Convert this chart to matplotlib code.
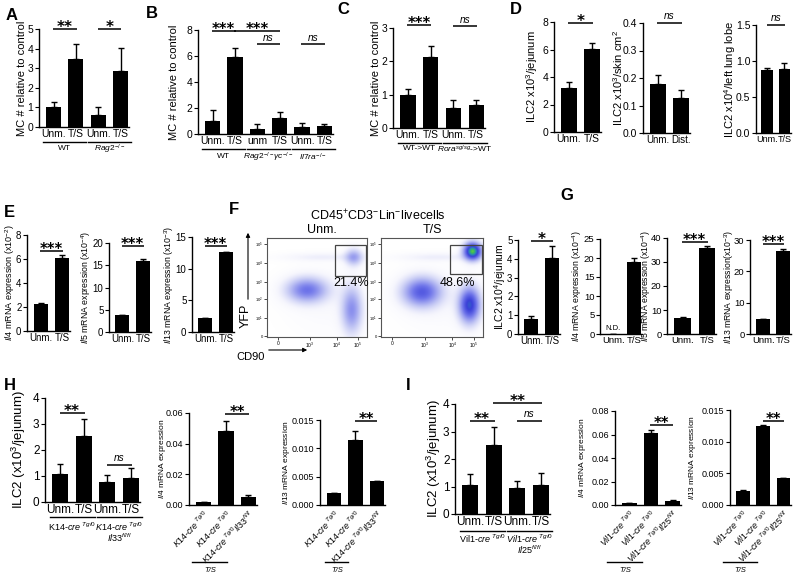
import matplotlib
matplotlib.use('Agg')
import matplotlib.pyplot as plt
import numpy as np
from matplotlib.lines import Line2D
from matplotlib.patches import Rectangle, FancyArrowPatch
from matplotlib.colors import LinearSegmentedColormap
from matplotlib.transforms import blended_transform_factory

plt.rcParams['font.family'] = ['Liberation Sans', 'DejaVu Sans']
plt.rcParams['mathtext.fontset'] = 'custom'
plt.rcParams['mathtext.rm'] = 'Liberation Sans'
plt.rcParams['mathtext.it'] = 'Liberation Sans:italic'
plt.rcParams['mathtext.bf'] = 'Liberation Sans:bold'
plt.rcParams['axes.linewidth'] = 1.0

W, H = 800, 574
fig = plt.figure(figsize=(8, 5.74), dpi=100)

# ---------------- data ----------------
UT = ['Unm.', 'T/S']
A_labels = ['Unm.', 'T/S', 'Unm.', 'T/S']
A_vals = [1.0, 3.45, 0.62, 2.85]
A_tops = [1.3, 4.25, 1.0, 4.02]

B_labels = ['Unm.', 'T/S', 'unm', 'T/S', 'Unm.', 'T/S']
B_vals = [1.0, 5.9, 0.38, 1.2, 0.54, 0.62]
B_tops = [1.85, 6.64, 0.74, 1.72, 0.87, 0.8]

C_labels = ['Unm.', 'T/S', 'Unm.', 'T/S']
C_vals = [1.0, 2.12, 0.61, 0.68]
C_tops = [1.16, 2.46, 0.84, 0.84]

D1_vals = [3.2, 6.06]
D1_tops = [3.64, 6.47]
D2_labels = ['Unm.', 'Dist.']
D2_vals = [0.178, 0.127]
D2_tops = [0.21, 0.157]
D3_vals = [0.88, 0.89]
D3_tops = [0.90, 0.97]

E1_vals = [2.23, 6.1]
E1_tops = [2.32, 6.35]
E2_vals = [3.8, 15.9]
E2_tops = [3.9, 16.5]
E3_vals = [2.2, 12.6]
E3_tops = [2.25, 12.7]

F_vals = [0.78, 4.06]
F_tops = [0.96, 4.7]
F_pct = ['21.4%', '48.6%']

G1_vals = [0.0, 18.9]
G1_tops = [0.0, 20.0]
G2_vals = [6.8, 36.0]
G2_tops = [7.0, 36.6]
G3_vals = [4.7, 26.4]
G3_tops = [4.8, 27.0]

H1_vals = [1.07, 2.52, 0.78, 0.93]
H1_tops = [1.46, 3.18, 1.03, 1.29]
H2_vals = [0.0018, 0.048, 0.0055]
H2_tops = [0.0018, 0.055, 0.0063]
H3_vals = [0.0022, 0.0115, 0.0042]
H3_tops = [0.0022, 0.013, 0.0043]
H_rot = [r'$\mathit{K14}$-$\mathit{cre}^{\ Tg/0}$', r'$\mathit{K14}$-$\mathit{cre}^{\ Tg/0}$',
         r'$\mathit{K14}$-$\mathit{cre}^{\ Tg/0}\mathit{Il33}^{fl/fl}$']

I1_vals = [1.07, 2.52, 0.96, 1.07]
I1_tops = [1.46, 3.18, 1.2, 1.5]
I2_vals = [0.0015, 0.061, 0.0038]
I2_tops = [0.0015, 0.0635, 0.0042]
I3_vals = [0.0022, 0.0125, 0.0042]
I3_tops = [0.0023, 0.0126, 0.0043]
I_rot = [r'$\mathit{Vil1}$-$\mathit{cre}^{\ Tg/0}$', r'$\mathit{Vil1}$-$\mathit{cre}^{\ Tg/0}$',
         r'$\mathit{Vil1}$-$\mathit{cre}^{\ Tg/0}\mathit{Il25}^{fl/fl}$']

# flow clusters: (x, y, sx, sy, weight) in plot fractions
flow_unm = [(0.40, 0.47, 0.14, 0.085, 0.75), (0.85, 0.27, 0.07, 0.16, 0.6),
            (0.87, 0.80, 0.06, 0.06, 0.5), (0.55, 0.80, 0.28, 0.03, 0.12),
            (0.60, 0.35, 0.30, 0.25, 0.05)]
flow_ts = [(0.40, 0.45, 0.13, 0.10, 0.9), (0.87, 0.32, 0.07, 0.12, 1.15),
           (0.90, 0.86, 0.06, 0.06, 1.55), (0.55, 0.80, 0.28, 0.03, 0.12),
           (0.60, 0.35, 0.30, 0.25, 0.05)]


def px_rect(l, t, r, b):
    return [l / W, 1 - b / H, (r - l) / W, (b - t) / H]


def ftext(x, y, s, **kw):
    fig.text(x / W, 1 - y / H, s, **kw)


def fline(x0, x1, y, lw=1.0):
    fig.add_artist(Line2D([x0 / W, x1 / W], [1 - y / H, 1 - y / H], transform=fig.transFigure,
                          color='black', lw=lw))


def bar_panel(px, vals, tops, ymax, yticks, ytl, xlabels, ylabel, ylabel_x, fs=7, ylfs=7, rot=None, xfs=None):
    l, t, r, b = px
    ax = fig.add_axes(px_rect(l, t, r, b))
    n = len(vals)
    x = np.arange(n)
    ax.bar(x, vals, width=0.68, color='black', zorder=2)
    up = [max(tp - v, 0) for tp, v in zip(tops, vals)]
    ax.errorbar(x, vals, yerr=[np.zeros(n), up], fmt='none', ecolor='black',
                elinewidth=1, capsize=2.5, capthick=1, zorder=1)
    ax.set_xlim(-0.65, n - 0.62)
    ax.set_ylim(0, ymax)
    ax.set_yticks(yticks)
    ax.set_yticklabels(ytl, fontsize=fs)
    ax.set_xticks(x)
    if rot is None:
        ax.set_xticklabels(xlabels, fontsize=xfs or fs)
        ax.tick_params(axis='x', length=0, pad=1.5)
    else:
        ax.set_xticklabels(xlabels, fontsize=6.3, rotation=45, ha='right', rotation_mode='anchor')
        ax.tick_params(axis='x', length=0, pad=2)
    ax.tick_params(axis='y', length=3, width=0.8, pad=1, direction='out')
    for s in ['top', 'right']:
        ax.spines[s].set_visible(False)
    ax.patch.set_alpha(0)
    ftext(ylabel_x, (t + b) / 2, ylabel, rotation=90, ha='center', va='center', fontsize=ylfs)
    ax._px = (l, t, r, b)
    return ax


def sig(ax, i, j, y, text, fs=10.5):
    ax.plot([i - 0.03, j + 0.03], [y, y], color='black', lw=1.1, clip_on=False, solid_capstyle='butt')
    if text == 'ns':
        ax.annotate('ns', ((i + j) / 2, y), xytext=(0, 1.2), textcoords='offset points',
                    ha='center', va='bottom', fontsize=7.2, style='italic', annotation_clip=False)
    else:
        ax.annotate(text, ((i + j) / 2, y), xytext=(0, -2.2), textcoords='offset points',
                    ha='center', va='baseline', fontsize=fs, fontweight='bold',
                    family='DejaVu Sans', annotation_clip=False)


def group(ax, i, j, text, line_off, text_off, text2=None, text2_off=None, fs=6):
    l, t, r, b = ax._px
    hp = b - t
    tr = blended_transform_factory(ax.transData, ax.transAxes)
    ax.plot([i - 0.45, j + 0.45], [-line_off / hp] * 2, color='black', lw=1.0, transform=tr, clip_on=False)
    ax.text((i + j) / 2, -text_off / hp, text, transform=tr, ha='center', va='center', fontsize=fs)
    if text2 is not None:
        ax.text((i + j) / 2, -text2_off / hp, text2, transform=tr, ha='center', va='center', fontsize=fs)


def letter(x, y, s):
    ftext(x, y, s, ha='center', va='center', fontsize=12, fontweight='bold')


# ---------------- A ----------------
letter(12, 15, 'A')
ax = bar_panel((39, 29, 129, 127), A_vals, A_tops, 5, range(6), [str(v) for v in range(6)],
               A_labels, 'MC # relative to control', 22, fs=7.5, ylfs=8)
sig(ax, 0, 1, 5.0, '**', 11)
sig(ax, 2, 3, 5.0, '*', 11)
group(ax, 0, 1, 'WT', 15, 22)
group(ax, 2, 3, r'$\mathit{Rag2}^{-/-}$', 15, 22)

# ---------------- B ----------------
letter(152, 13, 'B')
ax = bar_panel((198, 30, 333, 134), B_vals, B_tops, 8, [0, 2, 4, 6, 8], ['0', '2', '4', '6', '8'],
               B_labels, 'MC # relative to control', 174, fs=7.5, ylfs=8)
sig(ax, 0, 1, 7.9, '***')
sig(ax, 1, 3, 7.9, '***')
sig(ax, 2, 3, 6.9, 'ns')
sig(ax, 4, 5, 6.9, 'ns')
group(ax, 0, 1, 'WT', 15, 23)
group(ax, 2, 3, r'$\mathit{Rag2}^{-/-}\mathit{\gamma c}^{-/-}$', 15, 23)
group(ax, 4, 5, r'$\mathit{Il7ra}^{-/-}$', 15, 23)

# ---------------- C ----------------
letter(343, 10, 'C')
ax = bar_panel((393, 28, 485, 128), C_vals, C_tops, 3, [0, 1, 2, 3], ['0', '1', '2', '3'],
               C_labels, 'MC # relative to control', 376, fs=7.5, ylfs=8)
sig(ax, 0, 1, 3.1, '***')
sig(ax, 2, 3, 3.05, 'ns')
group(ax, 0, 1, 'WT->WT', 15, 21)
group(ax, 2, 3, r'$\mathit{Rora}^{sg/sg}$->WT', 15, 21)

# ---------------- D ----------------
letter(516, 9, 'D')
ax = bar_panel((554, 22, 601, 132), D1_vals, D1_tops, 8, [0, 2, 4, 6, 8], ['0', '2', '4', '6', '8'],
               UT, r'ILC2 x10$^{3}$/jejunum', 532, fs=7.5, ylfs=8)
sig(ax, 0, 1, 7.9, '*', 11)
ax = bar_panel((643, 23, 690, 133), D2_vals, D2_tops, 0.4, [0, 0.1, 0.2, 0.3, 0.4],
               ['0.0', '0.1', '0.2', '0.3', '0.4'], D2_labels, r'ILC2 x10$^{3}$/skin cm$^{2}$', 618,
               fs=7.5, ylfs=8, xfs=7)
sig(ax, 0, 1, 0.4, 'ns')
ax = bar_panel((756, 25, 791, 133), D3_vals, D3_tops, 1.5, [0, 0.5, 1.0, 1.5],
               ['0.0', '0.5', '1.0', '1.5'], UT, r'ILC2 x10$^{4}$/left lung lobe', 730, fs=7.5, ylfs=8,
               xfs=6.5)
sig(ax, 0, 1, 1.5, 'ns')

# ---------------- E ----------------
letter(9, 212, 'E')
ax = bar_panel((27, 235, 70, 331), E1_vals, E1_tops, 8, [0, 2, 4, 6, 8], ['0', '2', '4', '6', '8'],
               UT, r'$\mathit{Il4}$ mRNA expression (x10$^{-2}$)', 10, fs=7, ylfs=6.5)
sig(ax, 0, 1, 6.7, '***')
ax = bar_panel((109, 243, 151, 332), E2_vals, E2_tops, 20, [0, 5, 10, 15, 20],
               ['0', '5', '10', '15', '20'], UT, r'$\mathit{Il5}$ mRNA expression (x10$^{-4}$)', 86,
               fs=7, ylfs=6.3)
sig(ax, 0, 1, 19.3, '***')
ax = bar_panel((192, 237, 234, 332), E3_vals, E3_tops, 15, [0, 5, 10, 15], ['0', '5', '10', '15'],
               UT, r'$\mathit{Il13}$ mRNA expression (x10$^{-3}$)', 169, fs=7, ylfs=6.3)
sig(ax, 0, 1, 13.6, '***')

# ---------------- F (flow) ----------------
letter(234, 210, 'F')
cmap = LinearSegmentedColormap.from_list('flow', [
    (0.0, '#ffffff'), (0.05, '#f6f6fd'), (0.2, '#c4c8f4'), (0.45, '#7076ea'),
    (0.65, '#3a40d8'), (0.8, '#2a88b8'), (0.9, '#40c050'), (1.0, '#d8e030')])


def flow_panel(px, clusters, gate_px, pct, pct_xy):
    l, t, r, b = px
    ax = fig.add_axes(px_rect(l, t, r, b))
    g = np.linspace(0, 1, 220)
    X, Y = np.meshgrid(g, g)
    D = np.zeros_like(X)
    for (cx, cy, sx, sy, w) in clusters:
        D += w * np.exp(-((X - cx) ** 2 / (2 * sx ** 2) + (Y - cy) ** 2 / (2 * sy ** 2)))
    ax.imshow(D, origin='lower', extent=(0, 1, 0, 1), cmap=cmap, vmin=0, vmax=1.7,
              aspect='auto', interpolation='bilinear')
    ax.set_xlim(0, 1)
    ax.set_ylim(0, 1)
    for s in ax.spines.values():
        s.set_linewidth(0.8)
        s.set_color('#555555')
    ax.set_xticks([0.11, 0.43, 0.70, 0.91])
    ax.set_xticklabels(['0', r'10$^{3}$', r'10$^{4}$', r'10$^{5}$'], fontsize=3.5)
    ax.set_yticks([0.01, 0.19, 0.38, 0.56, 0.75, 0.94])
    ax.set_yticklabels(['0', r'10$^{1}$', r'10$^{2}$', r'10$^{3}$', r'10$^{4}$', r'10$^{5}$'], fontsize=3)
    ax.tick_params(length=2, width=0.5, pad=1)
    gl, gt, gr, gb = gate_px
    ax.add_patch(Rectangle(((gl - l) / (r - l), (b - gb) / (b - t)), (gr - gl) / (r - l),
                           (gb - gt) / (b - t), fill=False, ec='#444444', lw=0.9))
    ftext(pct_xy[0], pct_xy[1], pct, ha='center', va='center', fontsize=9)
    return ax


flow_panel((267, 238, 367, 337), flow_unm, (335, 245, 366, 276), F_pct[0], (351, 283))
flow_panel((381, 238, 483, 337), flow_ts, (450, 245, 482, 274), F_pct[1], (457, 283))
ftext(378, 216, r'CD45$^{+}$CD3$^{-}$Lin$^{-}$livecells', ha='center', va='center', fontsize=9)
ftext(322, 230, 'Unm.', ha='center', va='center', fontsize=9)
ftext(432, 230, 'T/S', ha='center', va='center', fontsize=9)
fig.add_artist(FancyArrowPatch((248 / W, 1 - 302 / H), (248 / W, 1 - 230 / H), transform=fig.transFigure,
                               arrowstyle='-|>', mutation_scale=6, lw=0.8, color='black'))
ftext(246, 316, 'YFP', rotation=90, ha='center', va='center', fontsize=9)
ftext(251, 357, 'CD90', ha='center', va='center', fontsize=8)
fig.add_artist(FancyArrowPatch((266 / W, 1 - 350 / H), (310 / W, 1 - 350 / H), transform=fig.transFigure,
                               arrowstyle='-|>', mutation_scale=6, lw=0.8, color='black'))

ax = bar_panel((518, 240, 560, 334), F_vals, F_tops, 5, range(6), [str(v) for v in range(6)],
               UT, r'ILC2 x10$^{4}$/jejunum', 500, fs=7, ylfs=7.5)
sig(ax, 0, 1, 4.95, '*', 11)

# ---------------- G ----------------
letter(567, 195, 'G')
ax = bar_panel((600, 239, 642, 334), G1_vals, G1_tops, 25, [0, 5, 10, 15, 20, 25],
               ['0', '5', '10', '15', '20', '25'], UT, r'$\mathit{Il4}$ mRNA expression (x10$^{-4}$)', 577,
               fs=6.8, ylfs=6.2)
ax.text(0, 0.5, 'N.D.', ha='center', va='bottom', fontsize=5.5)
ax = bar_panel((667, 238, 716, 334), G2_vals, G2_tops, 40, [0, 10, 20, 30, 40],
               ['0', '10', '20', '30', '40'], UT, r'$\mathit{Il5}$ mRNA expression (x10$^{-4}$)', 646,
               fs=6.8, ylfs=6.2)
sig(ax, 0, 1, 38.5, '***')
ax = bar_panel((750, 240, 791, 334), G3_vals, G3_tops, 30, [0, 10, 20, 30], ['0', '10', '20', '30'],
               UT, r'$\mathit{Il13}$ mRNA expression(x10$^{-3}$)', 729, fs=6.8, ylfs=6.2)
sig(ax, 0, 1, 28.7, '***')

# ---------------- H ----------------
letter(10, 385, 'H')
ax = bar_panel((45, 398, 140, 502), H1_vals, H1_tops, 4, [0, 1, 2, 3, 4], ['0', '1', '2', '3', '4'],
               A_labels, r'ILC2 (x10$^{3}$/jejunum)', 19, fs=8.5, ylfs=9.5)
sig(ax, 0, 1, 3.42, '**', 11)
sig(ax, 2, 3, 1.42, 'ns')
group(ax, 0, 1, r'K14-$\mathit{cre}^{\ Tg/0}$', 15, 25, fs=6.5)
group(ax, 2, 3, r'$\mathit{K14}$-$\mathit{cre}^{\ Tg/0}$', 15, 25, r'$\mathit{Il33}^{fl/fl}$', 36, fs=6.5)

ax = bar_panel((189, 413, 257, 505), H2_vals, H2_tops, 0.06, [0, 0.02, 0.04, 0.06],
               ['0.00', '0.02', '0.04', '0.06'], H_rot, r'$\mathit{Il4}$ mRNA expression', 163,
               fs=6.5, ylfs=6, rot=45)
sig(ax, 1, 2, 0.0596, '**')
ax = bar_panel((320, 420, 385, 505), H3_vals, H3_tops, 0.015, [0, 0.005, 0.010, 0.015],
               ['0.000', '0.005', '0.010', '0.015'], H_rot, r'$\mathit{Il13}$ mRNA expression', 287,
               fs=6.5, ylfs=6, rot=45)
sig(ax, 1, 2, 0.0148, '**')
fline(192, 227, 562)
ftext(210, 570, 'T/S', ha='center', va='center', fontsize=5.5, style='italic')
fline(325, 348, 562)
ftext(337, 570, 'T/S', ha='center', va='center', fontsize=5.5, style='italic')

# ---------------- I ----------------
letter(408, 385, 'I')
ax = bar_panel((455, 404, 550, 514), I1_vals, I1_tops, 4, [0, 1, 2, 3, 4], ['0', '1', '2', '3', '4'],
               A_labels, r'ILC2 (x10$^{3}$/jejunum)', 434, fs=8.5, ylfs=9.5)
sig(ax, 0, 1, 3.39, '**', 11)
sig(ax, 1, 3, 4.03, '**', 11)
sig(ax, 2, 3, 3.39, 'ns')
group(ax, 0, 1, r'Vil1-$\mathit{cre}^{\ Tg/0}$', 17, 25, fs=6.5)
group(ax, 2, 3, r'$\mathit{Vil1}$-$\mathit{cre}^{\ Tg/0}$', 17, 25, r'$\mathit{Il25}^{fl/fl}$', 36, fs=6.5)

ax = bar_panel((615, 411, 681, 505), I2_vals, I2_tops, 0.08, [0, 0.02, 0.04, 0.06, 0.08],
               ['0.00', '0.02', '0.04', '0.06', '0.08'], I_rot, r'$\mathit{Il4}$ mRNA expression', 583,
               fs=6.5, ylfs=6, rot=45)
sig(ax, 1, 2, 0.068, '**')
ax = bar_panel((730, 410, 791, 505), I3_vals, I3_tops, 0.015, [0, 0.005, 0.010, 0.015],
               ['0.000', '0.005', '0.010', '0.015'], I_rot, r'$\mathit{Il13}$ mRNA expression', 692,
               fs=6.5, ylfs=6, rot=45)
sig(ax, 1, 2, 0.0133, '**')
fline(607, 642, 562)
ftext(625, 570, 'T/S', ha='center', va='center', fontsize=5.5, style='italic')
fline(723, 757, 562)
ftext(740, 570, 'T/S', ha='center', va='center', fontsize=5.5, style='italic')

fig.savefig('out.png', dpi=100)
